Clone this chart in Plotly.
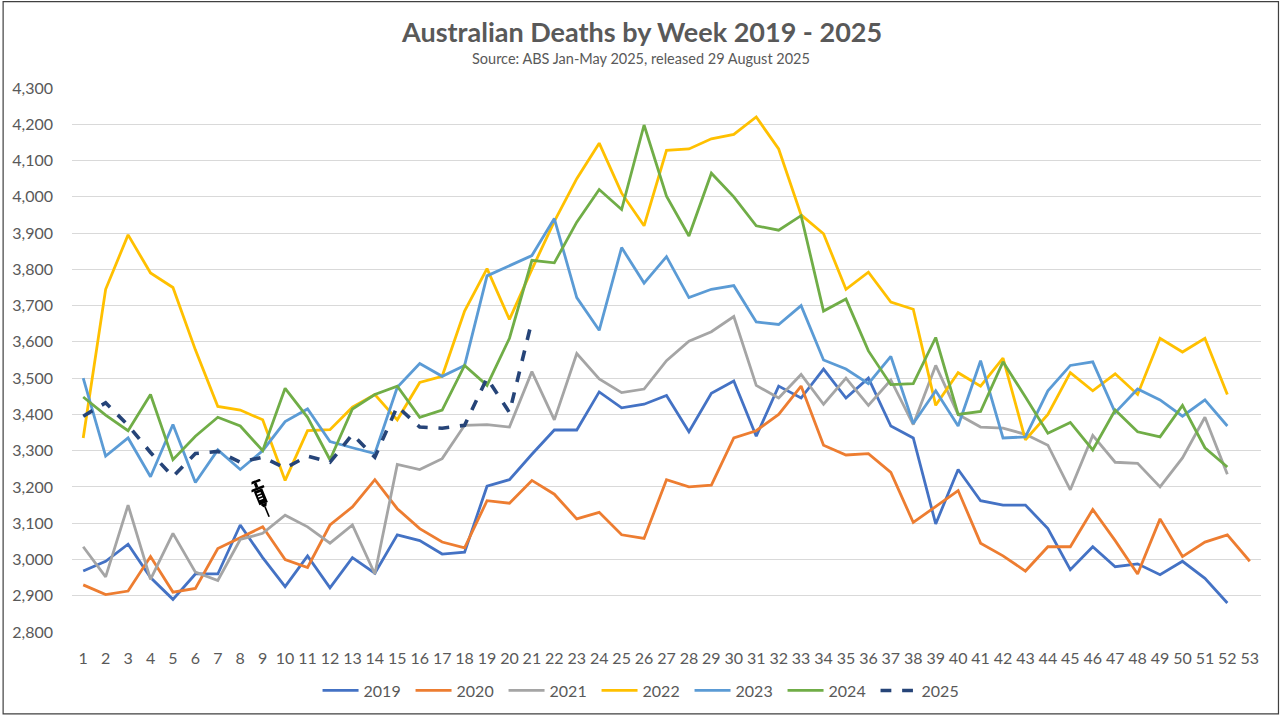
import base64
import plotly.graph_objects as go

weeks = list(range(1, 54))

d2019 = [2968, 2995, 3042, 2950, 2890, 2960, 2960, 3095, 3005, 2925, 3010, 2922, 3005, 2962, 3068, 3052, 3015, 3020, 3202, 3220,
         3290, 3357, 3357, 3462, 3418, 3428, 3452, 3352, 3458, 3492, 3340, 3478, 3445, 3525, 3445, 3500, 3368, 3335, 3098, 3248,
         3162, 3150, 3150, 3085, 2972, 3035, 2980, 2988, 2958, 2995, 2948, 2880]
d2020 = [2930, 2903, 2913, 3008, 2910, 2920, 3030, 3060, 3090, 3000, 2978, 3095, 3145, 3220, 3140, 3085, 3048, 3032, 3162, 3155,
         3218, 3180, 3112, 3130, 3068, 3058, 3220, 3200, 3205, 3335, 3355, 3400, 3478, 3315, 3288, 3292, 3240, 3102, 3145, 3190,
         3045, 3010, 2968, 3035, 3035, 3138, 3052, 2960, 3112, 3008, 3048, 3068, 2995]
d2021 = [3035, 2952, 3150, 2945, 3072, 2965, 2942, 3055, 3072, 3122, 3090, 3045, 3095, 2960, 3262, 3248, 3278, 3370, 3372, 3365,
         3518, 3385, 3568, 3498, 3460, 3470, 3548, 3602, 3628, 3670, 3480, 3445, 3510, 3428, 3500, 3425, 3495, 3372, 3535, 3400,
         3365, 3362, 3345, 3315, 3192, 3342, 3268, 3265, 3200, 3280, 3392, 3235]
d2022 = [3335, 3745, 3895, 3790, 3750, 3578, 3422, 3412, 3385, 3218, 3355, 3358, 3420, 3455, 3385, 3488, 3505, 3685, 3802, 3662,
         3800, 3932, 4050, 4148, 4010, 3920, 4128, 4132, 4160, 4172, 4220, 4132, 3950, 3898, 3745, 3792, 3710, 3690, 3425, 3515,
         3478, 3555, 3330, 3400, 3515, 3465, 3512, 3455, 3610, 3572, 3610, 3455]
d2023 = [3500, 3285, 3335, 3228, 3372, 3212, 3302, 3248, 3300, 3380, 3415, 3325, 3308, 3292, 3475, 3540, 3505, 3535, 3782, 3810,
         3838, 3940, 3722, 3632, 3860, 3762, 3835, 3722, 3745, 3755, 3655, 3648, 3700, 3550, 3525, 3485, 3560, 3375, 3465, 3368,
         3548, 3335, 3338, 3465, 3535, 3545, 3405, 3470, 3440, 3395, 3440, 3368]
d2024 = [3448, 3398, 3355, 3455, 3275, 3340, 3392, 3368, 3300, 3472, 3392, 3275, 3415, 3455, 3478, 3392, 3412, 3535, 3480, 3610,
         3825, 3818, 3930, 4020, 3965, 4198, 4002, 3892, 4065, 4000, 3920, 3908, 3948, 3685, 3718, 3575, 3482, 3485, 3612, 3400,
         3408, 3545, 3448, 3348, 3378, 3302, 3412, 3352, 3338, 3425, 3308, 3255]
d2025 = [3395, 3432, 3370, 3295, 3228, 3292, 3298, 3268, 3282, 3252, 3285, 3268, 3345, 3282, 3422, 3365, 3362, 3370, 3500, 3405,
         3658]

series = [
    ("2019", d2019, "#4472C4", "solid", 2.8),
    ("2020", d2020, "#ED7D31", "solid", 2.8),
    ("2021", d2021, "#A5A5A5", "solid", 2.8),
    ("2022", d2022, "#FFC000", "solid", 2.8),
    ("2023", d2023, "#5B9BD5", "solid", 2.8),
    ("2024", d2024, "#70AD47", "solid", 2.8),
    ("2025", d2025, "#264478", "dash", 3.6),
]

y_ticks = list(range(2800, 4301, 100))
title_text = "Australian Deaths by Week 2019 - 2025"
subtitle_text = "Source: ABS Jan-May 2025, released 29 August 2025"
FONT = "Lato"
GREY = "#595959"

fig = go.Figure()
for name, vals, color, dash, w in series:
    fig.add_trace(go.Scatter(
        x=weeks[:len(vals)], y=vals, name=name, mode="lines",
        line=dict(color=color, width=w, dash=dash),
    ))

# syringe icon (SVG)
svg = """<svg xmlns='http://www.w3.org/2000/svg' viewBox='0 0 20 40' width='20' height='40'>
<g transform='rotate(-22 10 20)' fill='black'>
<rect x='4' y='0.5' width='12' height='2.5'/>
<rect x='8.5' y='3' width='3' height='5'/>
<rect x='3' y='8' width='14' height='2.5'/>
<rect x='5.5' y='10.5' width='9' height='15'/>
<rect x='7.5' y='13.5' width='4' height='1.3' fill='white'/>
<rect x='7.5' y='16.5' width='4' height='1.3' fill='white'/>
<rect x='7.5' y='19.5' width='4' height='1.3' fill='white'/>
<polygon points='6.5,25.5 13.5,25.5 11.5,29 8.5,29'/>
<rect x='9.2' y='29' width='1.6' height='11'/>
</g></svg>"""
uri = "data:image/svg+xml;base64," + base64.b64encode(svg.encode()).decode()
fig.add_layout_image(dict(source=uri, xref="x", yref="y", x=8.5, y=3222, sizex=0.9, sizey=108,
                          sizing="stretch", xanchor="left", yanchor="top", layer="above"))

L, R, T, B = 70, 19, 88, 84
pw, ph = 1280 - L - R, 720 - T - B
fig.add_shape(type="rect", xref="paper", yref="paper",
              x0=-(L - 1) / pw, x1=1 + (R - 1.5) / pw, y0=-(B - 1.5) / ph, y1=1 + (T - 1) / ph,
              line=dict(color="#404040", width=1.2), fillcolor="rgba(0,0,0,0)")

fig.add_annotation(text="<b>" + title_text + "</b>", xref="paper", yref="paper",
                   x=(640 - L) / pw, y=1 + (T - 31) / ph, xanchor="center", yanchor="middle",
                   showarrow=False, font=dict(family=FONT, size=27, color=GREY))
fig.add_annotation(text=subtitle_text, xref="paper", yref="paper",
                   x=(640 - L) / pw, y=1 + (T - 58) / ph, xanchor="center", yanchor="middle",
                   showarrow=False, font=dict(family=FONT, size=14.5, color=GREY))

fig.update_layout(
    width=1280, height=720,
    margin=dict(l=L, r=R, t=T, b=B),
    paper_bgcolor="white", plot_bgcolor="white",
    font=dict(family=FONT, color=GREY, size=16),
    xaxis=dict(
        range=[0.5, 53.5], tickmode="array", tickvals=weeks, ticktext=[str(w) for w in weeks],
        showgrid=False, zeroline=False, showline=False, ticks="",
        tickfont=dict(size=16, color=GREY), tickangle=0, ticklabelstandoff=15,
    ),
    yaxis=dict(
        range=[2800, 4300], tickmode="array", tickvals=y_ticks, tickformat=",",
        showgrid=True, gridcolor="#D9D9D9", gridwidth=1, zeroline=False, showline=False,
        tickfont=dict(size=16, color=GREY), ticklabelstandoff=18,
    ),
    legend=dict(orientation="h", x=(642 - L) / pw, xanchor="center", y=-59 / ph, yanchor="middle",
                font=dict(size=16, color=GREY), itemwidth=36, traceorder="normal",
                entrywidth=42, entrywidthmode="pixels"),
    showlegend=True,
)

fig.write_html("out.html", config={"displayModeBar": False},
               post_script="document.body.style.margin='0';document.body.style.overflow='hidden';")
